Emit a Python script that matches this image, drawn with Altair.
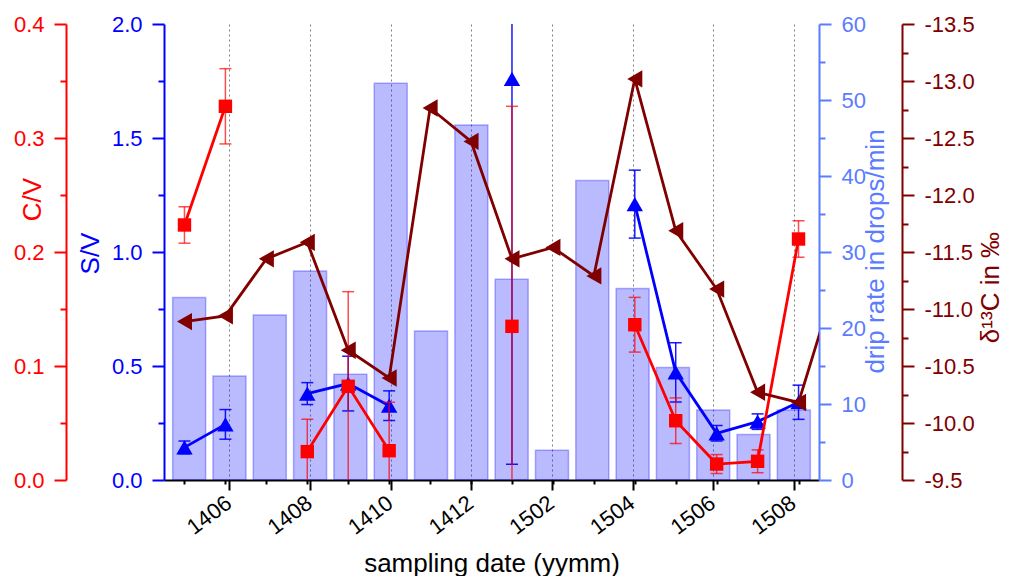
import altair as alt
import pandas as pd

# ---------------- data ----------------
months = ['1405', '1406', '1407', '1408', '1409', '1410', '1411', '1412',
          '1501', '1502', '1503', '1504', '1505', '1506', '1507', '1508', '1509']
drip_rate = [24.0, 13.7, 21.7, 27.5, 13.9, 52.2, 19.6, 46.7,
             26.4, 3.9, 39.4, 25.2, 14.8, 9.2, 6.0, 9.2, None]
sv = [0.143, 0.244, None, 0.379, 0.423, 0.326, None, None,
      1.759, None, None, 1.21, 0.472, 0.205, 0.256, 0.341, None]
sv_err = [0.028, 0.065, None, 0.048, 0.12, 0.065, None, None,
          1.69, None, None, 0.149, 0.13, 0.034, 0.034, 0.075, None]
cv = [0.2237, 0.3278, None, 0.0249, 0.0822, 0.0257, None, None,
      0.1348, None, None, 0.1362, 0.052, 0.014, 0.0164, 0.2114, None]
cv_err = [0.016, 0.033, None, 0.0284, 0.083, 0.0425, None, None,
          0.193, None, None, 0.024, 0.02, 0.0083, 0.01, 0.016, None]
d13c = [-10.89, -10.94, -11.44, -11.585, -10.638, -10.395, -12.763, -12.47,
        -11.44, -11.54, -11.29, -13.018, -11.687, -11.175, -10.27, -10.18, -11.35]

x_label_values = [1, 3, 5, 7, 9, 11, 13, 15]
x_minor_values = list(range(16))
cv_ticks = [0.0, 0.1, 0.2, 0.3, 0.4]
cv_minor = [0.05, 0.15, 0.25, 0.35]
sv_ticks = [0.0, 0.5, 1.0, 1.5, 2.0]
sv_minor = [0.25, 0.75, 1.25, 1.75]
drip_ticks = [0, 10, 20, 30, 40, 50, 60]
drip_minor = [5, 15, 25, 35, 45, 55]
d_ticks = [-13.5, -13.0, -12.5, -12.0, -11.5, -11.0, -10.5, -10.0, -9.5]
d_minor = [-13.25, -12.75, -12.25, -11.75, -11.25, -10.75, -10.25, -9.75]

# ---------------- styles ----------------
RED = '#FF0000'
BLUE = '#0000FF'
DRIP = '#5B7CFF'
DARK = '#800000'
FONT = 'Liberation Sans'

df = pd.DataFrame({'idx': list(range(len(months))), 'month': months,
                   'drip': drip_rate, 'sv': sv, 'sv_err': sv_err,
                   'cv': cv, 'cv_err': cv_err, 'd13c': d13c})
df['sv_lo'] = df['sv'] - df['sv_err']
df['sv_hi'] = df['sv'] + df['sv_err']
df['cv_lo'] = df['cv'] - df['cv_err']
df['cv_hi'] = df['cv'] + df['cv_err']
df['sv_seg'] = df['sv'].isna().cumsum()
df['cv_seg'] = df['cv'].isna().cumsum()

bars_df = df.dropna(subset=['drip'])
sv_df = df.dropna(subset=['sv'])
cv_df = df.dropna(subset=['cv'])
d_df = df.dropna(subset=['d13c'])

XDOM = [-0.5, 15.5]
label_expr = '[' + ','.join("'%s'" % m for m in months) + '][datum.value]'


def xenc(axis=None):
    return alt.X('idx:Q', scale=alt.Scale(domain=XDOM, nice=False, zero=False),
                 axis=axis, title=None)


x_main_axis = alt.Axis(orient='bottom', values=x_label_values, labelExpr=label_expr,
                       title='sampling date (yymm)', grid=True, gridDash=[2, 3],
                       gridColor='#808080', gridWidth=1, tickSize=10, tickWidth=2,
                       tickColor='black', domainColor='black', domainWidth=2,
                       labelAngle=-37, labelAlign='right', labelBaseline='middle',
                       labelFontSize=22, labelPadding=10, labelOffset=-1,
                       labelColor='black', titleFontSize=26, titleColor='black',
                       titleFontWeight='normal', titleY=83, titleBaseline='middle')
x_minor_axis = alt.Axis(orient='bottom', values=x_minor_values, labels=False,
                        domain=False, grid=False, tickSize=4, tickWidth=2,
                        tickColor='black', title=None)


def yaxis(orient, offset, values, color, title, tx, ty, fmt=None, expr=None):
    kw = dict(orient=orient, offset=offset, values=values, title=title,
              titleColor=color, labelColor=color, domainColor=color, tickColor=color,
              tickSize=12, tickWidth=2, domainWidth=2, labelFontSize=22,
              labelPadding=10, titleFontSize=26, titleFontWeight='normal',
              titleX=tx, titleY=ty, titleAngle=-90, titleAlign='center',
              titleBaseline='middle', grid=False)
    if fmt:
        kw['format'] = fmt
    if expr:
        kw['labelExpr'] = expr
    return alt.Axis(**kw)


def minor_axis(orient, offset, values, color):
    return alt.Axis(orient=orient, offset=offset, values=values, labels=False,
                    domain=False, grid=False, tickSize=6, tickWidth=2,
                    tickColor=color, title=None)


cv_scale = alt.Scale(domain=[0, 0.4], nice=False, zero=False)
sv_scale = alt.Scale(domain=[0, 2], nice=False, zero=False)
drip_scale = alt.Scale(domain=[0, 60], nice=False, zero=False)
d_scale = alt.Scale(domain=[-13.5, -9.5], reverse=True, nice=False, zero=False)

cv_axis = yaxis('left', 98, cv_ticks, RED, 'C/V', -34, 175, fmt='.1f')
sv_axis = yaxis('left', 0, sv_ticks, BLUE, 'S/V', -74, 229, fmt='.1f')
drip_axis = yaxis('right', 0, drip_ticks, DRIP, 'drip rate in drops/min', 56, 227, fmt='d')
d_axis = yaxis('right', 83, d_ticks, DARK, 'δ¹³C in ‰', 88, 263,
               expr="(datum.value < 0 ? '-' : '') + format(abs(datum.value), '.1f')")

# ---------------- drip-rate bars ----------------
bars = alt.Chart(bars_df).mark_bar(size=33, orient='vertical', color=BLUE,
                                   fillOpacity=0.27, stroke=BLUE, strokeOpacity=0.3,
                                   strokeWidth=1.5, clip=True).encode(
    x=xenc(x_main_axis),
    y=alt.Y('drip:Q', scale=drip_scale, axis=drip_axis),
    y2=alt.datum(0),
)
drip_min = alt.Chart(bars_df).mark_point(opacity=0).encode(
    x=xenc(x_minor_axis),
    y=alt.Y('drip:Q', scale=drip_scale, axis=minor_axis('right', 0, drip_minor, DRIP)),
)


def series(data, field, lo, hi, seg, scale, axis, color, shape, size, err_opacity):
    base = alt.Chart(data)
    layers = []
    if lo:
        layers.append(base.mark_rule(color=color, strokeWidth=1.5, opacity=err_opacity,
                                     clip=True).encode(
            x=xenc(), y=alt.Y(lo + ':Q', scale=scale, axis=axis), y2=alt.Y2(hi + ':Q')))
        for f in (lo, hi):
            layers.append(base.mark_tick(orient='horizontal', size=12, thickness=1.5,
                                         color=color, opacity=err_opacity,
                                         clip=True).encode(
                x=xenc(), y=alt.Y(f + ':Q', scale=scale, axis=axis)))
    enc = dict(x=xenc(), y=alt.Y(field + ':Q', scale=scale, axis=axis))
    if seg:
        enc['detail'] = alt.Detail(seg + ':N')
    layers.append(base.mark_line(color=color, strokeWidth=2.8, clip=True).encode(**enc))
    layers.append(base.mark_point(shape=shape, filled=True, size=size, color=color,
                                  opacity=1, clip=True).encode(
        x=xenc(), y=alt.Y(field + ':Q', scale=scale, axis=axis)))
    return alt.layer(*layers)


sv_group = series(sv_df, 'sv', 'sv_lo', 'sv_hi', 'sv_seg', sv_scale, sv_axis, BLUE,
                  'triangle-up', 270, 0.9)
sv_min = alt.Chart(sv_df).mark_point(opacity=0).encode(
    x=xenc(), y=alt.Y('sv:Q', scale=sv_scale, axis=minor_axis('left', 0, sv_minor, BLUE)))

cv_group = series(cv_df, 'cv', 'cv_lo', 'cv_hi', 'cv_seg', cv_scale, cv_axis, RED,
                  'square', 180, 0.7)
cv_min = alt.Chart(cv_df).mark_point(opacity=0).encode(
    x=xenc(), y=alt.Y('cv:Q', scale=cv_scale, axis=minor_axis('left', 98, cv_minor, RED)))

d_group = series(d_df, 'd13c', None, None, None, d_scale, d_axis, DARK,
                 'triangle-left', 300, 1)
d_min = alt.Chart(d_df).mark_point(opacity=0).encode(
    x=xenc(), y=alt.Y('d13c:Q', scale=d_scale, axis=minor_axis('right', 83, d_minor, DARK)))

chart = alt.layer(bars, drip_min, sv_group, sv_min, cv_group, cv_min, d_group, d_min).resolve_scale(
    x='independent', y='independent'
).properties(
    width=655, height=456,
    padding={'left': 5, 'top': 5, 'right': 0, 'bottom': 0}
).configure_view(strokeWidth=0).configure_axis(
    labelFont=FONT, titleFont=FONT
)

chart.save('out.html', embed_options={'renderer': 'svg', 'actions': False})
